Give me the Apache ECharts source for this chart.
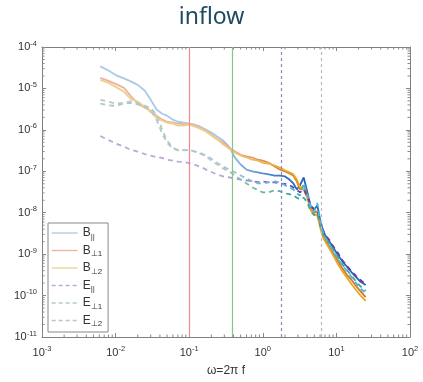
<!DOCTYPE html>
<html>
<head>
<meta charset="utf-8">
<script src="https://cdn.jsdelivr.net/npm/echarts@6/dist/echarts.min.js"></script>
<style>
html, body { margin: 0; padding: 0; background: #fff; }
#chart { width: 423px; height: 382px; }
</style>
</head>
<body>
<div id="chart"></div>
<script>
// 频率 ω=2πf
const freq = [0.0062, 0.008, 0.01, 0.013, 0.016, 0.02, 0.025, 0.03, 0.036, 0.043,
  0.05, 0.06, 0.07, 0.085, 0.1, 0.12, 0.14, 0.17, 0.2, 0.24,
  0.29, 0.35, 0.42, 0.5, 0.6, 0.72, 0.86, 1.0, 1.2, 1.45,
  1.7, 2.0, 2.3, 2.6, 2.9, 3.2, 3.6, 4.0, 4.5, 5.0,
  5.5, 6.0, 6.5, 7.0, 8.0, 9.0, 10.5, 12, 14, 16,
  18.5, 21, 25]

const bPar = [3.4e-5, 2.7e-5, 2.1e-5, 1.75e-5, 1.48e-5, 1.22e-5, 8.8e-6, 5.3e-6, 3.1e-6, 2.45e-6,
  2.2e-6, 1.76e-6, 1.57e-6, 1.49e-6, 1.41e-6, 1.33e-6, 1.21e-6, 1.01e-6, 8.6e-7, 6.9e-7,
  5.5e-7, 3.9e-7, 2.1e-7, 1.46e-7, 1.1e-7, 9.9e-8, 9.4e-8, 8.9e-8, 8.4e-8, 7.9e-8,
  7.9e-8, 7.5e-8, 6.3e-8, 5.1e-8, 3.65e-8, 4.6e-8, 7.1e-8, 3.3e-8, 1.35e-8, 1.2e-8,
  1.5e-8, 6.9e-9, 4.0e-9, 2.9e-9, 2.05e-9, 1.47e-9, 9.5e-10, 6.8e-10, 4.9e-10, 3.7e-10,
  2.8e-10, 2.2e-10, 1.8e-10]

const bPerp1 = [1.8e-5, 1.52e-5, 1.29e-5, 1.03e-5, 6.6e-6, 4.3e-6, 3.4e-6, 2.9e-6, 2.2e-6, 1.76e-6,
  1.57e-6, 1.49e-6, 1.41e-6, 1.37e-6, 1.41e-6, 1.26e-6, 1.13e-6, 9.6e-7, 7.7e-7, 6.1e-7,
  4.9e-7, 3.7e-7, 3.0e-7, 2.5e-7, 2.3e-7, 2.15e-7, 1.9e-7, 1.8e-7, 1.6e-7, 1.3e-7,
  1.1e-7, 9.9e-8, 8.9e-8, 7.9e-8, 5.7e-8, 3.65e-8, 4.6e-8, 2.6e-8, 1.2e-8, 1.0e-8,
  1.08e-8, 5.3e-9, 3.0e-9, 2.3e-9, 1.56e-9, 1.06e-9, 6.8e-10, 4.6e-10, 3.1e-10, 2.4e-10,
  1.7e-10, 1.3e-10, 9.2e-11]

const bPerp2 = [1.61e-5, 1.36e-5, 1.09e-5, 8.3e-6, 5.6e-6, 4.8e-6, 3.6e-6, 2.7e-6, 1.96e-6, 1.66e-6,
  1.49e-6, 1.41e-6, 1.26e-6, 1.26e-6, 1.33e-6, 1.19e-6, 1.07e-6, 9.0e-7, 7.3e-7, 5.8e-7,
  4.4e-7, 3.5e-7, 2.8e-7, 2.4e-7, 2.15e-7, 1.9e-7, 1.8e-7, 1.6e-7, 1.54e-7, 1.38e-7,
  1.23e-7, 1.05e-7, 9.4e-8, 8.4e-8, 6.3e-8, 4.1e-8, 3.65e-8, 2.3e-8, 1.14e-8, 9.2e-9,
  8.7e-9, 4.5e-9, 2.7e-9, 2.05e-9, 1.39e-9, 9.5e-10, 5.7e-10, 3.9e-10, 2.65e-10, 1.9e-10,
  1.36e-10, 1.03e-10, 7.4e-11]

const ePar = [7.1e-7, 5.7e-7, 4.7e-7, 3.95e-7, 3.3e-7, 3.0e-7, 2.6e-7, 2.4e-7, 2.2e-7, 2.1e-7,
  1.9e-7, 1.8e-7, 1.72e-7, 1.67e-7, 1.58e-7, 1.42e-7, 1.3e-7, 1.1e-7, 9.6e-8, 8.4e-8,
  7.5e-8, 7.1e-8, 6.7e-8, 6.3e-8, 6.0e-8, 5.7e-8, 5.5e-8, 5.7e-8, 5.4e-8, 5.4e-8,
  5.1e-8, 4.95e-8, 4.6e-8, 4.1e-8, 3.5e-8, 3.1e-8, 3.65e-8, 2.5e-8, 1.5e-8, 1.2e-8,
  1.2e-8, 6.2e-9, 4.0e-9, 2.9e-9, 2.2e-9, 1.56e-9, 1.06e-9, 7.2e-10, 5.1e-10, 3.9e-10,
  3.0e-10, 2.4e-10, 1.9e-10]

const ePerp1 = [5.3e-6, 4.8e-6, 4.3e-6, 4.5e-6, 4.9e-6, 4.5e-6, 3.8e-6, 3.4e-6, 2.3e-6, 1.01e-6,
  5.5e-7, 3.7e-7, 3.3e-7, 3.25e-7, 3.3e-7, 3.0e-7, 2.7e-7, 2.3e-7, 1.8e-7, 1.46e-7,
  1.17e-7, 9.9e-8, 7.9e-8, 6.3e-8, 5.1e-8, 4.1e-8, 3.5e-8, 3.1e-8, 3.1e-8, 3.5e-8,
  3.3e-8, 2.9e-8, 2.8e-8, 2.6e-8, 2.3e-8, 2.1e-8, 2.3e-8, 1.8e-8, 1.08e-8, 8.7e-9,
  9.7e-9, 5.0e-9, 3.2e-9, 2.6e-9, 1.84e-9, 1.32e-9, 8.5e-10, 5.7e-10, 4.1e-10, 3.0e-10,
  2.2e-10, 1.7e-10, 1.3e-10]

const ePerp2 = [4.3e-6, 3.9e-6, 3.8e-6, 4.3e-6, 4.5e-6, 4.1e-6, 3.6e-6, 3.1e-6, 1.76e-6, 8.1e-7,
  4.9e-7, 3.5e-7, 3.2e-7, 3.2e-7, 3.25e-7, 3.0e-7, 2.8e-7, 2.4e-7, 2.0e-7, 1.6e-7,
  1.3e-7, 1.1e-7, 9.4e-8, 7.9e-8, 6.7e-8, 5.7e-8, 5.1e-8, 5.1e-8, 5.4e-8, 5.7e-8,
  5.4e-8, 4.6e-8, 4.1e-8, 3.65e-8, 2.9e-8, 2.6e-8, 5.1e-8, 2.9e-8, 1.35e-8, 1.08e-8,
  1.7e-8, 6.2e-9, 3.6e-9, 2.6e-9, 1.74e-9, 1.18e-9, 7.6e-10, 5.4e-10, 3.9e-10, 2.8e-10,
  2.0e-10, 1.5e-10, 1.15e-10]

// 竖线位置
const markFreq = [0.105, 0.39, 1.8, 6.3]

// 坐标范围
const xDecades = [-3, -2, -1, 0, 1]
const yDecades = [-11, -10, -9, -8, -7, -6, -5]
const minorSteps = [2, 3, 4, 5, 6, 7, 8, 9]

const seriesNames = ['B||', 'B⊥1', 'B⊥2', 'E||', 'E⊥1', 'E⊥2']
const seriesData = [bPar, bPerp1, bPerp2, ePar, ePerp1, ePerp2]
const paleColors = ['#a9c9ea', '#eab39f', '#efd08a', '#bba8dc', '#b3cdbf', '#b2c6d3']
const fullColors = ['#2466bd', '#d9761e', '#e8a624', '#6a3f9e', '#3ea592', '#43b6e6']
const dashed = [false, false, false, true, true, true]

const chart = echarts.init(document.getElementById('chart'))

const powLabel = (v) => {
  const e = Math.round(Math.log10(v))
  return '{b|10}{s|' + e + '}'
}
const powRich = {
  b: { fontSize: 11, fontFamily: 'Liberation Sans', color: '#333' },
  s: { fontSize: 7.5, fontFamily: 'Liberation Sans', color: '#333', padding: [0, 0, 7, 0] }
}

const frameAxis = {
  axisLine: { show: true, onZero: false, lineStyle: { color: '#808080', width: 1 } },
  axisTick: { show: true, inside: true, length: 4, lineStyle: { color: '#888' } },
  minorTick: { show: false },
  splitLine: { show: false },
  minorSplitLine: { show: false }
}

// 对数次刻度 (2..9 × 10^k)
const minorX = []
xDecades.forEach(d => minorSteps.forEach(m => minorX.push(m * Math.pow(10, d))))
const minorY = []
yDecades.forEach(d => minorSteps.forEach(m => minorY.push(m * Math.pow(10, d))))

const lines = seriesNames.map((name, i) => ({
  name,
  type: 'line',
  data: freq.map((f, k) => [f, seriesData[i][k]]),
  showSymbol: false,
  symbol: 'none',
  lineStyle: {
    width: 1.8,
    type: dashed[i] ? [5, 4] : 'solid',
    color: new echarts.graphic.LinearGradient(0, 0, 1, 0, [
      { offset: 0, color: paleColors[i] },
      { offset: 0.45, color: paleColors[i] },
      { offset: 0.72, color: fullColors[i] },
      { offset: 1, color: fullColors[i] }
    ])
  },
  itemStyle: { color: paleColors[i] },
  z: 3
}))

const markStyles = [
  { color: '#ef8a90', type: 'solid' },
  { color: '#86c681', type: 'solid' },
  { color: '#8a84d4', type: [3, 3] },
  { color: '#b8b8c8', type: [3, 3] }
]

// 竖线: 每条一个系列
const markSeries = markFreq.map((f, i) => ({
  type: 'line',
  name: 'mark' + i,
  data: [],
  silent: true,
  color: markStyles[i].color,
  markLine: {
    symbol: 'none',
    silent: true,
    animation: false,
    label: { show: false },
    lineStyle: { color: markStyles[i].color, type: markStyles[i].type, width: 1.2, opacity: 1 },
    data: [{ xAxis: f }]
  },
  z: 2
}))

const tickItem = (p1, p2) => ({
  type: 'line',
  shape: { x1: p1[0], y1: p1[1], x2: p2[0], y2: p2[1] },
  style: { stroke: '#888', lineWidth: 1 }
})

const minorTickSeries = [
  {
    type: 'custom',
    name: 'minorX',
    silent: true,
    clip: false,
    data: minorX.map(v => [v, 1e-11]),
    renderItem: (params, api) => {
      const v = api.value(0)
      const b = api.coord([v, 1e-11])
      const t = api.coord([v, 1e-4])
      return {
        type: 'group',
        children: [
          tickItem([b[0], b[1]], [b[0], b[1] - 2.5]),
          tickItem([t[0], t[1]], [t[0], t[1] + 2.5])
        ]
      }
    },
    z: 1
  },
  {
    type: 'custom',
    name: 'minorY',
    silent: true,
    clip: false,
    data: minorY.map(v => [1e-3, v]),
    renderItem: (params, api) => {
      const v = api.value(1)
      const l = api.coord([1e-3, v])
      const r = api.coord([1e2, v])
      return {
        type: 'group',
        children: [
          tickItem([l[0], l[1]], [l[0] + 2.5, l[1]]),
          tickItem([r[0], r[1]], [r[0] - 2.5, r[1]])
        ]
      }
    },
    z: 1
  }
]

const option = {
  backgroundColor: '#fff',
  animation: false,
  title: {
    text: 'inflow',
    left: 'center',
    top: 1,
    textStyle: { fontSize: 23, fontWeight: 'normal', color: '#1e4a5d', fontFamily: 'Noto Sans' }
  },
  grid: { left: 42, right: 13, top: 47, bottom: 44 },
  legend: {
    orient: 'vertical',
    left: 48,
    top: 223,
    padding: [4, 6, 4, 3],
    itemGap: 4,
    itemWidth: 26,
    itemHeight: 14,
    borderColor: '#888',
    borderWidth: 1,
    backgroundColor: '#fff',
    data: seriesNames.map((name, i) => ({
      name,
      itemStyle: { opacity: 0 },
      lineStyle: { color: paleColors[i], width: 1.3, type: dashed[i] ? [4, 3] : 'solid', opacity: 1 }
    })),
    formatter: (name) => '{m|' + name[0] + '}{s|' + name.slice(1) + '}',
    textStyle: {
      rich: {
        m: { fontSize: 12, fontFamily: 'Liberation Sans', color: '#333' },
        s: { fontSize: 8, fontFamily: 'Liberation Sans', color: '#333', padding: [7, 0, 0, 0] }
      }
    }
  },
  xAxis: [
    {
      type: 'log',
      logBase: 10,
      min: 1e-3,
      max: 1e2,
      splitNumber: 5,
      position: 'bottom',
      name: 'ω=2π f',
      nameLocation: 'middle',
      nameGap: 28,
      nameTextStyle: { fontSize: 12, fontFamily: 'Liberation Sans', color: '#333' },
      axisLabel: { formatter: powLabel, rich: powRich, margin: 8 },
      ...frameAxis
    },
    {
      type: 'log',
      logBase: 10,
      min: 1e-3,
      max: 1e2,
      splitNumber: 5,
      position: 'top',
      axisLabel: { show: false },
      ...frameAxis
    }
  ],
  yAxis: [
    {
      type: 'log',
      logBase: 10,
      min: 1e-11,
      max: 1e-4,
      splitNumber: 7,
      position: 'left',
      axisLabel: { formatter: powLabel, rich: powRich, margin: 5 },
      ...frameAxis
    },
    {
      type: 'log',
      logBase: 10,
      min: 1e-11,
      max: 1e-4,
      splitNumber: 7,
      position: 'right',
      axisLabel: { show: false },
      ...frameAxis
    }
  ],
  series: [
    ...minorTickSeries,
    ...lines,
    ...markSeries
  ]
}

chart.setOption(option)
</script>
</body>
</html>
